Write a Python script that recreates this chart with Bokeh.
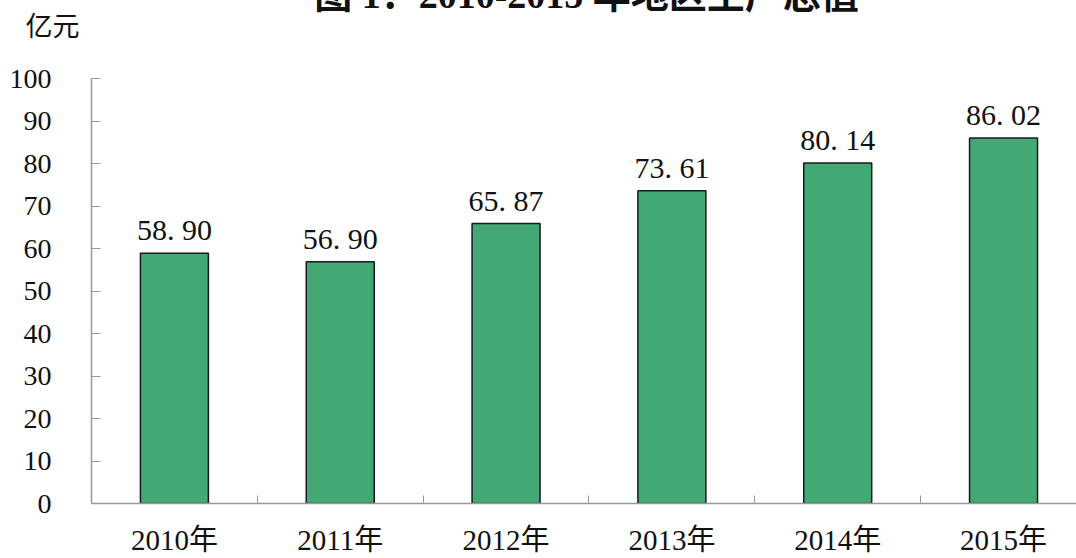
from bokeh.plotting import figure
from bokeh.models import Range1d, FixedTicker, LabelSet, ColumnDataSource, Label
from bokeh.embed import file_html
from bokeh.resources import INLINE
from bokeh.core.properties import value

years = ["2010年", "2011年", "2012年", "2013年", "2014年", "2015年"]
gdp = [58.90, 56.90, 65.87, 73.61, 80.14, 86.02]
y_ticks = [0, 10, 20, 30, 40, 50, 60, 70, 80, 90, 100]
title_text = "图 1：2010-2015 年地区生产总值"
unit_text = "亿元"

xs = [i + 0.5 for i in range(len(years))]
bar_labels = [f"{v:.2f}".replace(".", ". ") for v in gdp]
src = ColumnDataSource(dict(x=xs, top=gdp, label=bar_labels))

SERIF = "'Liberation Serif', 'Noto Sans CJK SC'"

p = figure(width=1076, height=558, x_range=Range1d(0, 5.94), y_range=Range1d(0, 100),
           output_backend="svg", toolbar_location=None,
           min_border_left=91, min_border_right=0, min_border_top=78, min_border_bottom=55)
p.title.text = ""
p.outline_line_color = None
p.xgrid.visible = False
p.ygrid.visible = False
p.background_fill_color = "white"

p.vbar(x="x", top="top", width=0.41, source=src, fill_color="#42A874",
       line_color="#1a1a1a", line_width=1.5)

labels = LabelSet(x="x", y="top", text="label", source=src, text_align="center",
                  text_baseline="bottom", y_offset=7, text_font=value(SERIF),
                  text_font_size="30px", text_color="#111111")
p.add_layout(labels)

# x axis
p.xaxis.ticker = FixedTicker(ticks=xs, minor_ticks=[1, 2, 3, 4, 5])
p.xaxis.major_label_overrides = {x: y for x, y in zip(xs, years)}
p.xaxis.major_tick_in = 0
p.xaxis.major_tick_out = 0
p.xaxis.minor_tick_in = 8
p.xaxis.minor_tick_out = 0
p.xaxis.minor_tick_line_color = "#999999"
p.xaxis.axis_line_color = "#999999"
p.xaxis.axis_line_width = 1.5
p.xaxis.major_label_text_font = SERIF
p.xaxis.major_label_text_font_size = "29px"
p.xaxis.major_label_text_color = "#111111"
p.xaxis.major_label_standoff = 20

# y axis
p.yaxis.ticker = FixedTicker(ticks=y_ticks, minor_ticks=[])
p.yaxis.major_tick_in = 9
p.yaxis.major_tick_out = 0
p.yaxis.major_tick_line_color = "#999999"
p.yaxis.axis_line_color = "#999999"
p.yaxis.axis_line_width = 1.5
p.yaxis.major_label_text_font = SERIF
p.yaxis.major_label_text_font_size = "28px"
p.yaxis.major_label_text_color = "#111111"
p.yaxis.major_label_standoff = 40

# texts outside the frame: placed in the top side panel so they are not clipped
p.add_layout(Label(x=586, y=-6, x_units="canvas", y_units="canvas",
                   text=title_text, text_align="center", text_baseline="alphabetic",
                   text_font=SERIF, text_font_size="38px", text_font_style="bold",
                   text_color="#111111"), "above")
p.add_layout(Label(x=52, y=26, x_units="canvas", y_units="canvas",
                   text=unit_text, text_align="center", text_baseline="middle",
                   text_font=SERIF, text_font_size="27px", text_color="#111111"), "above")

open("out.html", "w").write(file_html(p, INLINE))
